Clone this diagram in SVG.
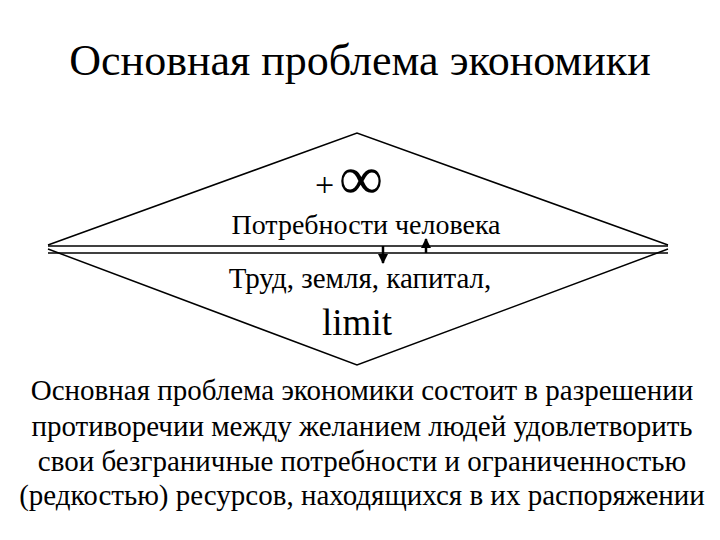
<svg xmlns="http://www.w3.org/2000/svg" width="720" height="540" viewBox="0 0 720 540" font-family="'Liberation Serif', 'Times New Roman', serif">
<style>
.l{stroke:#000;stroke-width:1.5;fill:none}
</style>
<defs><marker id="ah" viewBox="0 0 10 10" refX="9" refY="5" markerWidth="4" markerHeight="4" orient="auto"><path d="M0,0L10,5L0,10Z" fill="#000"/></marker></defs>
<rect width="720" height="540" fill="#fff"/>
<text x="360" y="75" font-size="44" text-anchor="middle">Основная проблема экономики</text>
<g id="top"><polyline class="l" points="48,245 357,133 668,245"/></g>
<g id="bottom"><polyline class="l" points="48,249 357,365 668,249"/></g>
<g id="connectors">
<line class="l" x1="48" y1="246" x2="668" y2="246"/>
<line class="l" x1="48" y1="253" x2="668" y2="253"/>
<line x1="383" y1="246" x2="383" y2="263" stroke="#000" stroke-width="2.5" marker-end="url(#ah)"/>
<line x1="426" y1="253" x2="426" y2="239" stroke="#000" stroke-width="2.5" marker-end="url(#ah)"/>
</g>
<text x="315" y="196" font-size="34">+</text>
<text x="339" y="199" font-size="62">∞</text>
<text x="366" y="234" font-size="28" text-anchor="middle">Потребности человека</text>
<text x="360" y="288" font-size="29" text-anchor="middle">Труд, земля, капитал,</text>
<text x="357" y="335" font-size="37" text-anchor="middle">limit</text>
<g font-size="29" text-anchor="middle">
<text x="362" y="400">Основная проблема экономики состоит в разрешении</text>
<text x="362" y="436">противоречии между желанием людей удовлетворить</text>
<text x="362" y="471">свои безграничные потребности и ограниченностью</text>
<text x="362" y="505">(редкостью) ресурсов, находящихся в их распоряжении</text>
</g>
</svg>
